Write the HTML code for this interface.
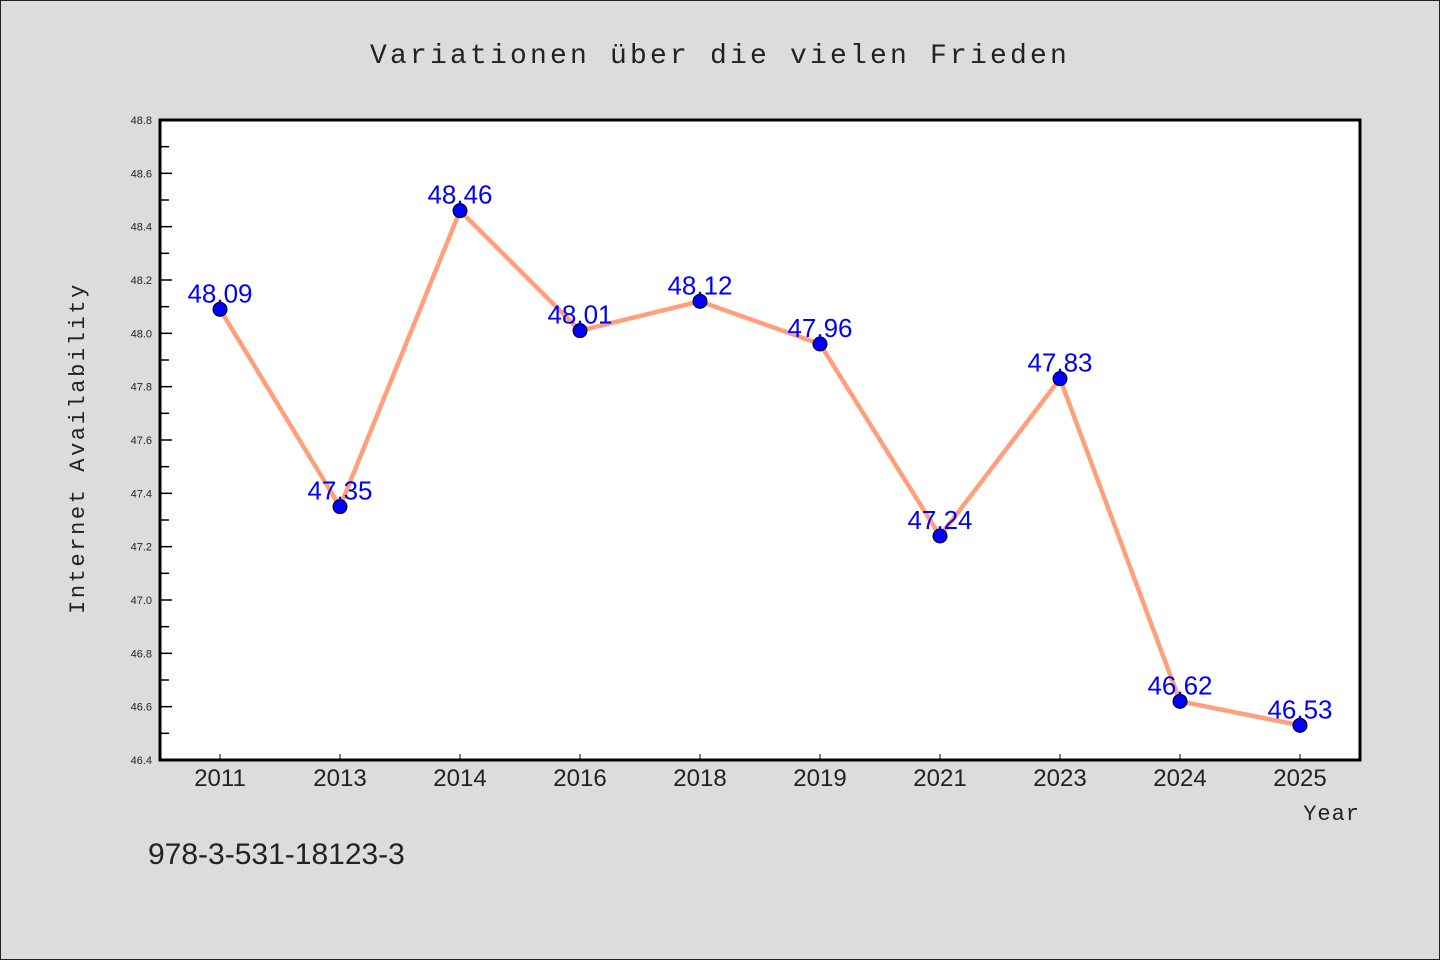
<!DOCTYPE html>
<html><head><meta charset="utf-8"><style>
body{margin:0;background:#dcdcdc;}
svg{display:block;font-family:"Liberation Sans","WenQuanYi Zen Hei",sans-serif;}
</style></head><body>
<svg width="1440" height="960">
<rect x="0.5" y="0.5" width="1439" height="959" fill="#dcdcdc" stroke="#222"/>
<text x="720" y="63" text-anchor="middle" font-size="28" letter-spacing="3.2" fill="#222" font-family="Liberation Mono, monospace">Variationen über die vielen Frieden</text>
<rect x="160" y="120" width="1200" height="640" fill="#fff"/>
<g id="yaxis"></g>
<g id="xaxis"></g>
<g id="series"></g>
<rect x="160" y="120" width="1200" height="640" fill="none" stroke="#000" stroke-width="3"/>
<text transform="translate(84,448) rotate(-90)" text-anchor="middle" font-size="22" letter-spacing="2.6" fill="#222" font-family="Liberation Mono, monospace">Internet Availability</text>
<text x="1360" y="820" text-anchor="end" font-size="22" letter-spacing="1" fill="#222" font-family="Liberation Mono, monospace">Year</text>
<text x="148" y="864" font-size="30" fill="#222">978-3-531-18123-3</text>
</svg>
<script>
const categories=["2011","2013","2014","2016","2018","2019","2021","2023","2024","2025"];
const values=[48.09,47.35,48.46,48.01,48.12,47.96,47.24,47.83,46.62,46.53];
const yTicks=[46.4,46.6,46.8,47.0,47.2,47.4,47.6,47.8,48.0,48.2,48.4,48.6,48.8];
const yMin=46.4,yMax=48.8;
const NS="http://www.w3.org/2000/svg";
function y(v){return 760-(v-yMin)/(yMax-yMin)*640;}
function x(i){return 220+i*120;}
function mk(t,a,p){const e=document.createElementNS(NS,t);for(const k in a)e.setAttribute(k,a[k]);p.appendChild(e);return e;}
const ya=document.getElementById('yaxis'),xa=document.getElementById('xaxis'),s=document.getElementById('series');
yTicks.forEach((v,i)=>{
 const t=mk('line',{x1:160,x2:172,y1:y(v),y2:y(v),stroke:'#000','stroke-width':1.5},ya);
 
 
 const l=mk('text',{x:152,y:y(v)+4,'text-anchor':'end','font-size':11,fill:'#222'},ya);
 l.textContent=v.toFixed(1);
 
 
 if(i<yTicks.length-1){
  const m=mk('line',{x1:160,x2:169,y1:y(v+0.1),y2:y(v+0.1),stroke:'#000','stroke-width':1.5},ya);
  
  
 }
});
categories.forEach((c,i)=>{
 const t=mk('line',{x1:x(i),x2:x(i),y1:760,y2:754,stroke:'#000','stroke-width':1},xa);
 
 
 const l=mk('text',{x:x(i),y:786,'text-anchor':'middle','font-size':24,fill:'#222'},xa);
 l.textContent=c;
 
 
});
const pl=mk('polyline',{points:values.map((v,i)=>x(i)+','+y(v)).join(' '),fill:'none',stroke:'#ffa07a','stroke-width':4.5,'stroke-linejoin':'round'},s);


values.forEach((v,i)=>{
 const c=mk('circle',{cx:x(i),cy:y(v),r:7,fill:'#0000ff',stroke:'#000','stroke-width':1},s);
 
 
 const l=mk('text',{x:x(i),y:y(v)-7,'text-anchor':'middle','font-size':26,fill:'#0000ff'},s);
 l.textContent=v.toFixed(2);
 
 
});
</script>
</body></html>
